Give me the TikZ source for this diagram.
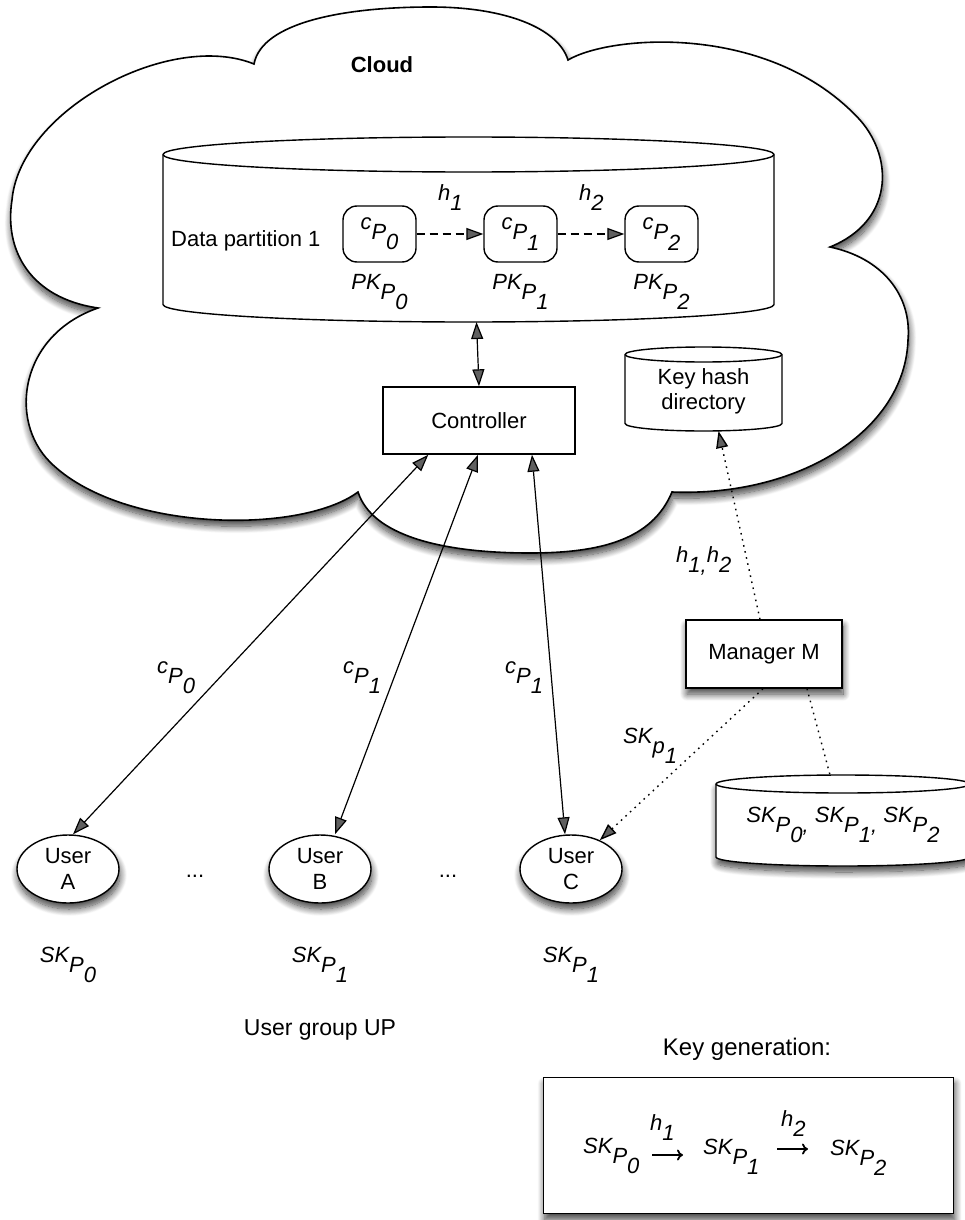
\documentclass[tikz,border=0pt]{standalone}
\usepackage{fontspec}
\setmainfont{Liberation Sans}
\usetikzlibrary{arrows.meta,calc,shapes.geometric,shadows.blur}

% lowered index, same size as the base text
\newcommand\lo[1]{\raisebox{-0.46em}{#1}}

% cylinder: [options]{centre x}{top}{bottom}{x radius}{y radius}
\newcommand\drawcyl[6][]{%
  \pgfmathsetmacro\cylL{#2-#5}%
  \pgfmathsetmacro\cylR{#2+#5}%
  \pgfmathsetmacro\cylT{#3+#6}%
  \pgfmathsetmacro\cylB{#4-#6}%
  \pgfmathsetmacro\cylKx{0.5523*#5}%
  \pgfmathsetmacro\cylKy{0.5523*#6}%
  \pgfmathsetmacro\cylF{#3+2*#6}%
  \path[draw, fill=white, line width=1.4pt, #1] (\cylL,\cylT) -- (\cylL,\cylB)
    .. controls (\cylL,\cylB+\cylKy) and (#2-\cylKx,#4) .. (#2,#4)
    .. controls (#2+\cylKx,#4) and (\cylR,\cylB+\cylKy) .. (\cylR,\cylB)
    -- (\cylR,\cylT)
    .. controls (\cylR,\cylT-\cylKy) and (#2+\cylKx,#3) .. (#2,#3)
    .. controls (#2-\cylKx,#3) and (\cylL,\cylT-\cylKy) .. (\cylL,\cylT) -- cycle;
  \draw[line width=1.4pt] (\cylL,\cylT)
    .. controls (\cylL,\cylT+\cylKy) and (#2-\cylKx,\cylF) .. (#2,\cylF)
    .. controls (#2+\cylKx,\cylF) and (\cylR,\cylT+\cylKy) .. (\cylR,\cylT);
}

\begin{document}
\begin{tikzpicture}[x=1pt,y=-1pt,
  txt/.style={font=\fontsize{22}{26}\selectfont, inner sep=0pt},
  itl/.style={font=\fontsize{22}{26}\selectfont\itshape, inner sep=0pt},
  shapeline/.style={draw, line width=1.4pt, fill=white},
  softshadow/.style={blur shadow={shadow xshift=1pt, shadow yshift=-6pt,
      shadow blur radius=7pt, shadow blur steps=12, shadow opacity=75}},
  boxnode/.style={shapeline, rectangle, inner sep=0pt,
      font=\fontsize{22}{26}\selectfont, align=center},
  usernode/.style={shapeline, ellipse, inner sep=0pt, minimum width=102,
      minimum height=68, font=\fontsize{22}{26}\selectfont, align=center, softshadow},
  cbox/.style={draw, line width=1.4pt, rounded corners=14pt, minimum width=73,
      minimum height=56, inner sep=0pt, font=\fontsize{22}{26}\selectfont\itshape},
  anchorbox/.style={rectangle, inner sep=0pt, outer sep=0pt},
  headarr/.style={-{Triangle[length=17pt,width=12pt]}, line width=1.2pt},
  dblarr/.style={{Triangle[length=17pt,width=12pt]}-{Triangle[length=17pt,width=12pt]}, line width=1.2pt},
  dasharr/.style={headarr, dash pattern=on 8pt off 5pt},
  dotline/.style={line width=1.4pt, dash pattern=on 1.6pt off 4.6pt},
  dotarr/.style={dotline, -{Triangle[length=17pt,width=12pt]}},
  genarr/.style={line width=1.8pt, -{To[length=6pt,width=11pt]}}
]
\useasboundingbox (0,0) rectangle (965,1220);

% the cloud
\path[draw, fill=white, line width=1.6pt, softshadow] (254,64)
  .. controls (262,22) and (345,7) .. (431,7)
  .. controls (505,7) and (558,28) .. (568,60)
  .. controls (610,35) and (770,22) .. (860,120)
  .. controls (895,160) and (892,222) .. (830,247)
  .. controls (882,258) and (912,295) .. (908,340)
  .. controls (905,430) and (800,497) .. (672,492)
  .. controls (652,540) and (600,553) .. (530,553)
  .. controls (440,553) and (372,535) .. (358,492)
  .. controls (300,535) and (120,532) .. (50,462)
  .. controls (8,420) and (20,335) .. (98,308)
  .. controls (30,298) and (4,250) .. (12,200)
  .. controls (20,110) and (170,30) .. (254,64) -- cycle;
\node[txt, font=\fontsize{22}{26}\selectfont\bfseries, anchor=base] (cloudlbl) at (382,73) {Cloud};

% data partition store
\drawcyl{468.5}{137}{322}{305.5}{17.5}
\node[anchorbox, anchor=north west, minimum width=611, minimum height=185] (data) at (163,137) {};
\node[txt, anchor=base west] (dptxt) at (171,246) {Data partition 1};
\node[cbox] (cP0) at (379.5,234) {c\lo{P\lo{0}}};
\node[cbox] (cP1) at (520.5,234) {c\lo{P\lo{1}}};
\node[cbox] (cP2) at (661.5,234) {c\lo{P\lo{2}}};
\draw[dasharr] (cP0) -- (cP1);
\draw[dasharr] (cP1) -- (cP2);
\node[itl, anchor=base west] (h1) at (438,200) {h\lo{1}};
\node[itl, anchor=base west] (h2) at (579,200) {h\lo{2}};
\node[itl, anchor=base] (pk0) at (379.5,289) {PK\lo{P\lo{0}}};
\node[itl, anchor=base] (pk1) at (520.5,289) {PK\lo{P\lo{1}}};
\node[itl, anchor=base] (pk2) at (661.5,289) {PK\lo{P\lo{2}}};

% controller
\node[boxnode, minimum width=192, minimum height=67] (ctrl) at (479,420.5) {Controller};
\draw[dblarr] ($(data.south)+(8,0)$) -- (ctrl.north);

% key hash directory
\drawcyl{703.5}{347}{431}{78.5}{7.5}
\node[anchorbox, anchor=north west, minimum width=157, minimum height=84] (khd) at (625,347) {};
\node[txt, align=center, font=\fontsize{22}{25}\selectfont] (khdtxt) at (703.5,391) {Key hash\\directory};

% manager and its key store
\node[boxnode, minimum width=156, minimum height=68, softshadow] (mgr) at (764,654) {Manager M};
\drawcyl[softshadow]{843}{775}{866}{127}{9}
\node[anchorbox, anchor=north west, minimum width=254, minimum height=91] (skdb) at (716,775) {};
\node[itl, anchor=base] (sktxt) at (843,822) {SK\lo{P\lo{0},} SK\lo{P\lo{1},} SK\lo{P\lo{2}}};

% users
\node[usernode] (uA) at (68,869) {User\\A};
\node[usernode] (uB) at (320,869) {User\\B};
\node[usernode] (uC) at (571,869) {User\\C};
\node[txt, anchor=base] (dots1) at (195,877) {...};
\node[txt, anchor=base] (dots2) at (448,877) {...};
\node[itl, anchor=base] (skA) at (68,962) {SK\lo{P\lo{0}}};
\node[itl, anchor=base] (skB) at (320,962) {SK\lo{P\lo{1}}};
\node[itl, anchor=base] (skC) at (571,962) {SK\lo{P\lo{1}}};
\node[txt, font=\fontsize{23}{27}\selectfont] (ugrp) at (320,1030) {User group UP};

% user <-> controller exchanges
\draw[dblarr] ($(uA.north)+(5,0)$) -- ($(ctrl.south west)+(46,0)$);
\draw[dblarr] ($(uB.north)+(15,0)$) -- ($(ctrl.south)+(-1,0)$);
\draw[dblarr] ($(uC.north)+(-6,0)$) -- ($(ctrl.south)+(53,0)$);
\node[itl, anchor=base west] (lA) at (157,673) {c\lo{P\lo{0}}};
\node[itl, anchor=base west] (lB) at (343,673) {c\lo{P\lo{1}}};
\node[itl, anchor=base west] (lC) at (505,673) {c\lo{P\lo{1}}};

% manager links
\draw[dotarr] ($(mgr.north)+(-4,0)$) -- ($(khd.south)+(15,0)$);
\draw[dotarr] ($(mgr.south)+(-1,0)$) -- (uC.45);
\draw[dotline] ($(mgr.south)+(43,0)$) -- ($(skdb.north)+(-13,0)$);
\node[itl, anchor=base west] (lh) at (676,562) {h\lo{1,}h\lo{2}};
\node[itl, anchor=base west] (lsk) at (623,743) {SK\lo{p\lo{1}}};

% key generation
\node[txt, font=\fontsize{24}{28}\selectfont, anchor=base] (kgtitle) at (747,1055) {Key generation:};
\node[boxnode, anchor=north west, minimum width=410, minimum height=136, softshadow] (kgbox) at (543,1077) {};
\node[itl, anchor=base west] (kg0) at (583,1153) {SK\lo{P\lo{0}}};
\node[itl, anchor=base west] (kgh1) at (650,1130) {h\lo{1}};
\node[itl, anchor=base west] (kg1) at (703,1154) {SK\lo{P\lo{1}}};
\node[itl, anchor=base west] (kgh2) at (781,1126) {h\lo{2}};
\node[itl, anchor=base west] (kg2) at (830,1155) {SK\lo{P\lo{2}}};
\coordinate (g1s) at (652,1155);
\coordinate (g1e) at (683,1155);
\coordinate (g2s) at (777,1149);
\coordinate (g2e) at (808,1149);
\draw[genarr] (g1s) -- (g1e);
\draw[genarr] (g2s) -- (g2e);
\end{tikzpicture}
\end{document}
